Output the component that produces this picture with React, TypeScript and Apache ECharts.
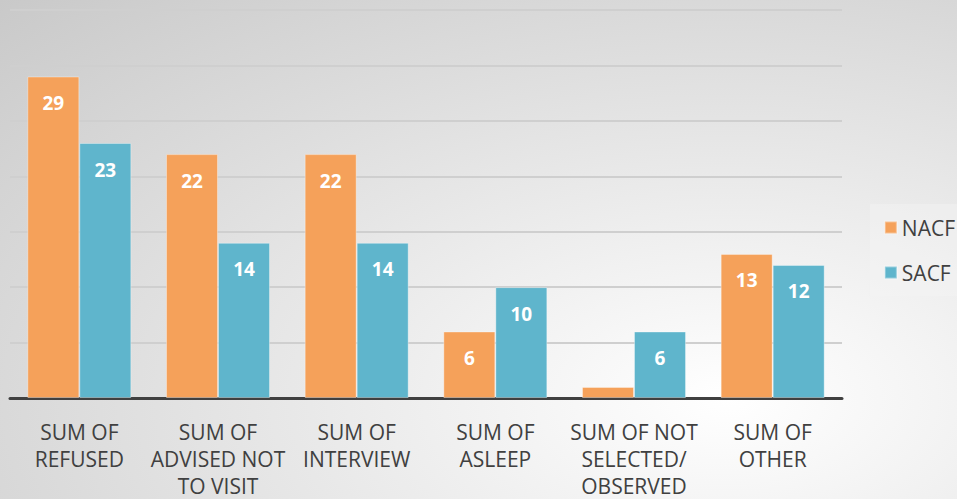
import React, { useEffect, useRef } from "react";
import * as echarts from "echarts";

const categories = [
  "SUM OF\nREFUSED",
  "SUM OF\nADVISED NOT\nTO VISIT",
  "SUM OF\nINTERVIEW",
  "SUM OF\nASLEEP",
  "SUM OF NOT\nSELECTED/\nOBSERVED",
  "SUM OF\nOTHER",
];
const nacf = [29, 22, 22, 6, 1, 13];
const sacf = [23, 14, 14, 10, 6, 12];

const FONT = "'Open Sans', Lato, sans-serif";

function toData(values: number[]) {
  return values.map((v) => (v < 3 ? { value: v, label: { show: false } } : v));
}

export default function App() {
  const ref = useRef<HTMLDivElement>(null);
  useEffect(() => {
    if (!ref.current) return;
    const chart = echarts.init(ref.current, undefined, { renderer: "svg" });
    const label = {
      show: true,
      position: "insideTop",
      distance: 17,
      color: "#ffffff",
      fontWeight: "bold",
      fontSize: 19,
      fontFamily: FONT,
    };
    chart.setOption({
      animation: false,
      backgroundColor: "transparent",
      grid: { left: 10, right: 115, top: 10, bottom: 100, containLabel: false },
      legend: {
        orient: "vertical",
        right: 0,
        top: 204,
        width: 87,
        padding: [13, 2, 13, 14],
        itemGap: 24,
        itemWidth: 12,
        itemHeight: 12,
        itemTextGap: 6,
        backgroundColor: "rgba(245,245,245,0.45)",
        icon: "rect",
        textStyle: { color: "#404040", fontSize: 21, fontFamily: FONT },
        data: ["NACF", "SACF"],
      },
      xAxis: {
        type: "category",
        data: categories,
        axisLine: { lineStyle: { color: "#404040", width: 3 } },
        axisTick: { show: false },
        axisLabel: {
          color: "#404040",
          fontSize: 21,
          lineHeight: 27,
          margin: 20,
          fontFamily: FONT,
          interval: 0,
        },
      },
      yAxis: {
        type: "value",
        min: 0,
        max: 35,
        interval: 5,
        axisLabel: { show: false },
        axisLine: { show: false },
        axisTick: { show: false },
        splitLine: { lineStyle: { color: "#cfcfcf", width: 2 } },
      },
      series: [
        {
          name: "NACF",
          type: "bar",
          data: toData(nacf),
          barGap: "0%",
          barCategoryGap: "25%",
          itemStyle: { color: "#F5A15A", borderColor: "rgba(255,255,255,0.35)", borderWidth: 1 },
          label,
        },
        {
          name: "SACF",
          type: "bar",
          data: toData(sacf),
          itemStyle: { color: "#5FB5CC", borderColor: "rgba(255,255,255,0.35)", borderWidth: 1 },
          label,
        },
      ],
    });
    return () => chart.dispose();
  }, []);
  return (
    <div
      style={{
        position: "absolute",
        left: 0,
        top: 0,
        width: 957,
        height: 499,
        background:
          "radial-gradient(farthest-corner at 76% 80%, #ffffff 0%, #ececec 35%, #c9c9c9 100%)",
      }}
    >
      <div ref={ref} style={{ width: 957, height: 499 }} />
    </div>
  );
}
